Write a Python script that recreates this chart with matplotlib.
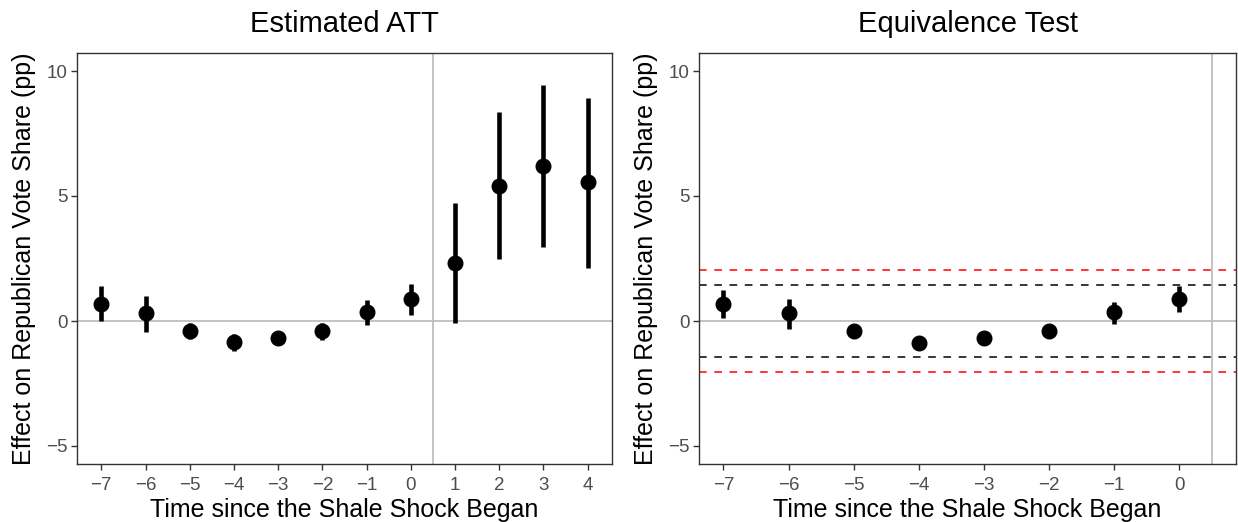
import matplotlib
matplotlib.use("Agg")
import matplotlib.pyplot as plt

# ---- data ----
periods_all = [-7, -6, -5, -4, -3, -2, -1, 0, 1, 2, 3, 4]
att_est = [0.70, 0.31, -0.40, -0.84, -0.66, -0.40, 0.35, 0.89, 2.32, 5.42, 6.22, 5.55]
att_lo = [0.00, -0.43, -0.72, -1.18, -0.95, -0.75, -0.16, 0.24, -0.09, 2.48, 2.98, 2.11]
att_hi = [1.39, 1.02, -0.08, -0.50, -0.40, -0.08, 0.86, 1.50, 4.71, 8.35, 9.44, 8.94]

periods_pre = [-7, -6, -5, -4, -3, -2, -1, 0]
eq_est = [0.70, 0.31, -0.40, -0.86, -0.66, -0.40, 0.35, 0.89]
eq_lo = [0.13, -0.31, -0.65, -1.10, -0.90, -0.65, -0.11, 0.35]
eq_hi = [1.26, 0.90, -0.13, -0.60, -0.40, -0.13, 0.78, 1.41]

equiv_bound_black = 1.45
equiv_bound_red = 2.05

titles = ["Estimated ATT", "Equivalence Test"]
xlabel = "Time since the Shale Shock Began"
ylabel = "Effect on Republican Vote Share (pp)"
yticks = [-5, 0, 5, 10]

W, H = 1238, 522
fig = plt.figure(figsize=(W / 100, H / 100), dpi=100)
plt.rcParams['font.family'] = ['Liberation Sans', 'DejaVu Sans']

def ax_rect(x0, y0, x1, y1):
    return [x0 / W, 1 - y1 / H, (x1 - x0) / W, (y1 - y0) / H]

ax1 = fig.add_axes(ax_rect(77, 53, 612, 464))
ax2 = fig.add_axes(ax_rect(699, 53, 1236, 464))

def style(ax, xs, title):
    ax.set_ylim(-5.72, 10.72)
    ax.set_yticks(yticks)
    ax.set_yticklabels(["\u22125", "0", "5", "10"])
    ax.set_xticks(xs)
    ax.set_xticklabels([("\u2212%d" % -v) if v < 0 else str(v) for v in xs])
    for s in ax.spines.values():
        s.set_color("#333333")
        s.set_linewidth(1.0)
    ax.tick_params(axis="both", colors="#333333", labelcolor="#4D4D4D",
                   labelsize=13.5, length=4, width=1.0, direction="out", pad=3)
    ax.tick_params(axis="x", pad=5)
    ax.set_title(title, fontsize=21, pad=15)
    ax.set_xlabel(xlabel, fontsize=18, labelpad=3)
    ax.set_ylabel(ylabel, fontsize=18, labelpad=7)
    ax.axhline(0, color="#BEBEBE", lw=1.3, zorder=1)
    ax.axvline(0.5, color="#BEBEBE", lw=1.3, zorder=1)

# Left panel
style(ax1, periods_all, titles[0])
ax1.set_xlim(-7.55, 4.55)
ax1.vlines(periods_all, att_lo, att_hi, color="black", lw=3.3, zorder=3)
ax1.plot(periods_all, att_est, "o", color="black", ms=10.5, zorder=4)

# Right panel
style(ax2, periods_pre, titles[1])
ax2.set_xlim(-7.375, 0.875)
for b, c in [(equiv_bound_red, "#FF0000"), (equiv_bound_black, "black")]:
    ax2.axhline(b, color=c, lw=1.1, dashes=(5, 5), zorder=2)
    ax2.axhline(-b, color=c, lw=1.1, dashes=(5, 5), zorder=2)
ax2.vlines(periods_pre, eq_lo, eq_hi, color="black", lw=3.3, zorder=3)
ax2.plot(periods_pre, eq_est, "o", color="black", ms=10.5, zorder=4)

fig.savefig("out.png", dpi=100)
